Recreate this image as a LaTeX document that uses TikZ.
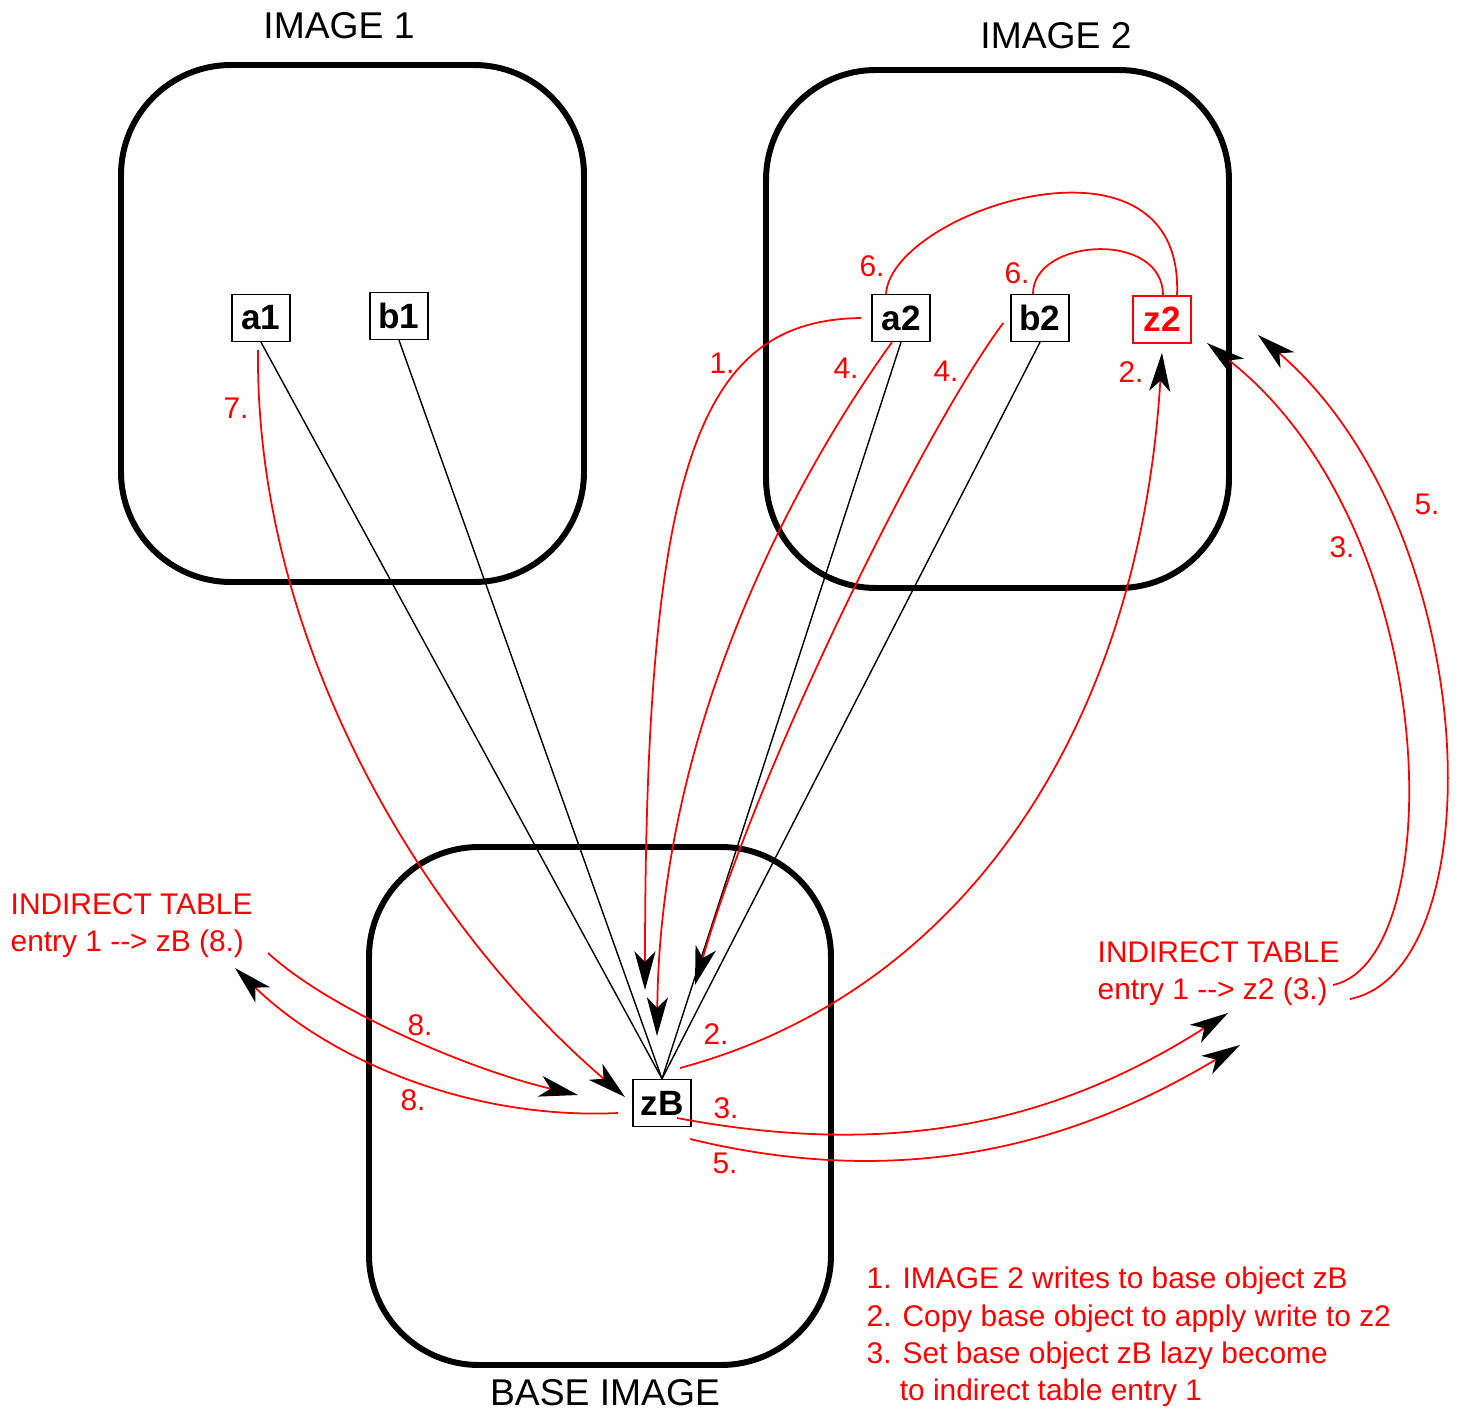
\documentclass[tikz,border=0pt]{standalone}
\usepackage{fontspec}
\setmainfont{Liberation Sans}
\usetikzlibrary{arrows.meta}

\begin{document}
\begin{tikzpicture}[
    frame/.style={line width=1.7pt, rounded corners=1.1cm},
    obj/.style={draw, line width=0.4pt, minimum width=0.58cm, minimum height=0.47cm, inner sep=0pt, font=\fontsize{10}{12}\selectfont\bfseries},
    lbl/.style={red, inner sep=0pt, font=\fontsize{8.5}{10.6}\selectfont},
    title/.style={inner sep=0pt, font=\fontsize{10.6}{12}\selectfont},
    ref/.style={line width=0.4pt},
    upd/.style={red, line width=0.5pt},
    updarr/.style={upd, -{Stealth[black, length=11pt, width=6pt, inset=3pt]}}
  ]
  \useasboundingbox (0, 0) rectangle (14.6, 14.1);

  \draw[frame] (1.21, 8.28) rectangle (5.84, 13.45);
  \draw[frame] (7.66, 8.22) rectangle (12.29, 13.40);
  \draw[frame] (3.69, 0.45) rectangle (8.31, 5.63);
  \node[title] (t1) at (3.39, 13.84){IMAGE 1};
  \node[title] (t2) at (10.56, 13.74){IMAGE 2};
  \node[title] (tb) at (6.05, 0.17){BASE IMAGE};

  \node[obj] (a1) at (2.61, 10.92){a1};
  \node[obj] (b1) at (3.99, 10.94){b1};
  \node[obj] (a2) at (9.01, 10.92){a2};
  \node[obj] (b2) at (10.40, 10.92){b2};
  \node[obj, draw=red, text=red] (z2) at (11.62, 10.905){z2};
  \node[obj] (zB) at (6.62, 3.07){zB};

  \node[lbl, align=left, anchor=west] (itab1) at (0.10, 4.84){INDIRECT TABLE\\entry 1 -{}-> zB (8.)};
  \node[lbl, align=left, anchor=west] (itab2) at (10.97, 4.36){INDIRECT TABLE\\entry 1 -{}-> z2 (3.)};
  \node[lbl, align=left, anchor=west] (notes) at (8.66, 0.73){1. IMAGE 2 writes to base object zB\\2. Copy base object to apply write to z2\\3. Set base object zB lazy become\\\phantom{3.} to indirect table entry 1};

  \draw[ref] (a1.south) -- (zB.north);
  \draw[ref] (b1.south) -- (zB.north);
  \draw[ref] (a2.south) -- (zB.north);
  \draw[ref] (b2.south) -- (zB.north);

  \coordinate (e1) at (6.45, 4.20);
  \coordinate (e4a) at (6.57, 3.74);
  \coordinate (e4b) at (6.95, 4.25);
  \coordinate (e3a) at (12.28, 3.97);
  \coordinate (e5a) at (12.40, 3.65);
  \coordinate (s3b) at (13.33, 4.25);
  \coordinate (e3b) at (12.07, 10.67);
  \coordinate (s5b) at (13.50, 4.11);
  \coordinate (e5b) at (12.58, 10.75);
  \coordinate (e7) at (6.25, 3.13);
  \coordinate (s8a) at (2.68, 4.57);
  \coordinate (e8a) at (5.78, 3.15);
  \coordinate (e8b) at (2.35, 4.42);

  \draw[updarr] ([xshift=-1mm]a2.west) .. controls (7.00, 10.90) and (6.45, 9.50) .. (e1);
  \draw[updarr] ([xshift=-0.9mm]a2.south) .. controls (8.00, 9.40) and (6.60, 6.90) .. (e4a);
  \draw[updarr] ([xshift=-0.7mm, yshift=-0.5mm]b2.west) .. controls (9.30, 9.90) and (7.60, 6.50) .. (e4b);
  \draw[updarr] ([shift={(0.18, 0.35)}]zB.center) .. controls (9.70, 4.20) and (11.40, 6.90) .. ([yshift=-0.9mm]z2.south);
  \draw[upd] ([xshift=-1.5mm]a2.north) .. controls (8.92, 12.0) and (11.85, 12.95) .. ([xshift=1.5mm]z2.north);
  \draw[upd] ([xshift=-0.7mm]b2.north) .. controls (10.33, 11.72) and (11.63, 11.80) .. ([xshift=0.1mm]z2.north);
  \draw[updarr] ([shift={(0.15, -0.15)}]zB.center) .. controls (9.00, 2.50) and (10.60, 2.90) .. (e3a);
  \draw[updarr] ([shift={(0.28, -0.36)}]zB.center) .. controls (9.20, 2.15) and (10.90, 2.75) .. (e5a);
  \draw[updarr] (s3b) .. controls (14.50, 4.50) and (14.45, 8.80) .. (e3b);
  \draw[updarr] (s5b) .. controls (14.95, 4.40) and (14.85, 8.80) .. (e5b);
  \draw[updarr] ([shift={(-0.03, -0.08)}]a1.south) .. controls (2.55, 7.60) and (4.30, 4.80) .. (e7);
  \draw[updarr] (s8a) .. controls (3.30, 4.00) and (4.70, 3.40) .. (e8a);
  \draw[updarr] ([shift={(-0.44, -0.10)}]zB.center) .. controls (4.70, 2.90) and (3.30, 3.50) .. (e8b);

  \node[lbl] (n1) at (7.22, 10.47){1.};
  \node[lbl] (n4a) at (8.46, 10.42){4.};
  \node[lbl] (n4b) at (9.46, 10.39){4.};
  \node[lbl] (n6a) at (8.72, 11.44){6.};
  \node[lbl] (n6b) at (10.17, 11.37){6.};
  \node[lbl] (n2a) at (11.31, 10.38){2.};
  \node[lbl] (n7) at (2.36, 10.02){7.};
  \node[lbl] (n2b) at (7.16, 3.76){2.};
  \node[lbl] (n3a) at (7.26, 3.02){3.};
  \node[lbl] (n5a) at (7.25, 2.47){5.};
  \node[lbl] (n3b) at (13.42, 8.63){3.};
  \node[lbl] (n5b) at (14.27, 9.06){5.};
  \node[lbl] (n8a) at (4.20, 3.85){8.};
  \node[lbl] (n8b) at (4.13, 3.10){8.};
\end{tikzpicture}
\end{document}
